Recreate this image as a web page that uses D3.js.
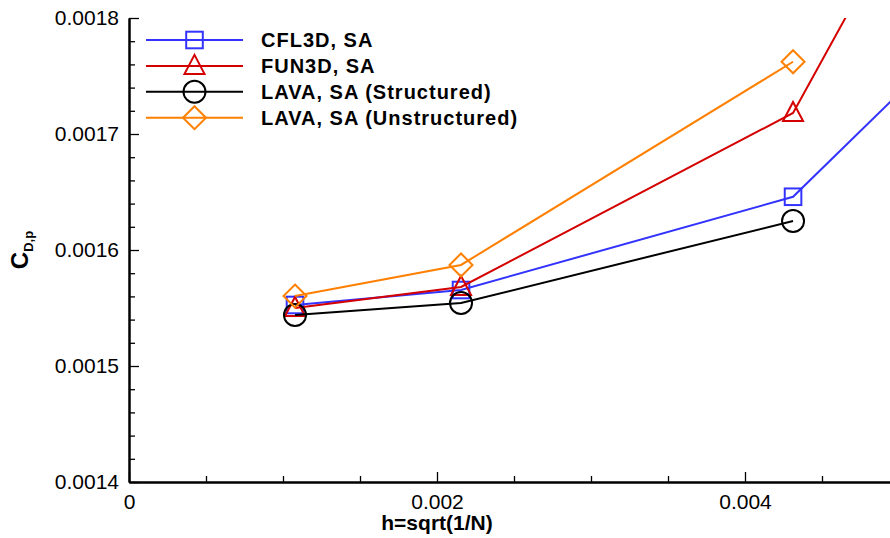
<!DOCTYPE html>
<html>
<head>
<meta charset="utf-8">
<script src="https://cdn.jsdelivr.net/npm/d3@7"></script>
<style>
  html, body { margin: 0; padding: 0; background: #fff; }
  svg { display: block; }
  text { font-family: "Liberation Sans", Arial, Helvetica, sans-serif; }
</style>
</head>
<body>
<svg id="chart" width="890" height="538"></svg>
<script>
// Grid spacing h = sqrt(1/N) for each mesh level
const hValues = [0.001078, 0.002156, 0.004312, 0.008624];

// Pressure drag coefficient per solver
const cfl3d = [0.0015526, 0.0015655, 0.0016459, 0.002205];
const fun3d = [0.0015500, 0.0015681, 0.0017181, 0.002758];
const lavaStructured = [0.0015440, 0.0015543, 0.0016250];
const lavaUnstructured = [0.0015603, 0.0015871, 0.0017623];

const seriesNames = ["CFL3D, SA", "FUN3D, SA", "LAVA, SA (Structured)", "LAVA, SA (Unstructured)"];
const seriesColors = ["#3333ff", "#d40000", "#000000", "#ff8000"];
const seriesSymbols = ["square", "triangle", "circle", "diamond"];

const xTickValues = [0, 0.002, 0.004];
const yTickValues = [0.0014, 0.0015, 0.0016, 0.0017, 0.0018];

const series = [cfl3d, fun3d, lavaStructured, lavaUnstructured].map((vals, i) => ({
  name: seriesNames[i], color: seriesColors[i], symbol: seriesSymbols[i],
  points: vals.map((v, j) => ({ x: hValues[j], y: v }))
}));

const svg = d3.select("#chart");
const plotLeft = 129, plotTop = 18, plotBottom = 482, plotRight = 899;

const x = d3.scaleLinear().domain([0, 0.005]).range([plotLeft, plotRight]);
const y = d3.scaleLinear().domain([0.0014, 0.0018]).range([plotBottom, plotTop]);

svg.append("defs").append("clipPath").attr("id", "plotClip")
  .append("rect").attr("x", plotLeft).attr("y", plotTop)
  .attr("width", plotRight - plotLeft).attr("height", plotBottom - plotTop);

// Axes: ticks point inward, major + minor
const xMinorVals = d3.range(1, 10).map(i => i * 0.0005).filter(v => Math.abs(v / 0.002 - Math.round(v / 0.002)) > 1e-6);
const yMinorVals = d3.range(1, 20).map(i => 0.0014 + i * 0.00002).filter(v => Math.abs(v / 0.0001 - Math.round(v / 0.0001)) > 1e-6);

const xMajor = d3.axisBottom(x).tickValues(xTickValues).tickSizeInner(-10).tickSizeOuter(0)
  .tickPadding(12).tickFormat(d => d === 0 ? "0" : d3.format(".3f")(d));
const xMinor = d3.axisBottom(x).tickValues(xMinorVals).tickSizeInner(-6).tickSizeOuter(0).tickFormat("");
const yMajor = d3.axisLeft(y).tickValues(yTickValues).tickSizeInner(-10).tickSizeOuter(0)
  .tickPadding(10).tickFormat(d3.format(".4f"));
const yMinor = d3.axisLeft(y).tickValues(yMinorVals).tickSizeInner(-6).tickSizeOuter(0).tickFormat("");

function styleAxis(g) {
  g.select(".domain").attr("stroke", "#000").attr("stroke-width", 2);
  g.selectAll(".tick line").attr("stroke", "#000").attr("stroke-width", 1.3);
  g.selectAll(".tick text").attr("fill", "#000").attr("font-size", 21);
}

svg.append("g").attr("transform", `translate(0,${plotBottom})`).call(xMinor).call(styleAxis);
svg.append("g").attr("transform", `translate(0,${plotBottom})`).call(xMajor).call(styleAxis);
svg.append("g").attr("transform", `translate(${plotLeft},0)`).call(yMinor).call(styleAxis);
svg.append("g").attr("transform", `translate(${plotLeft},0)`).call(yMajor).call(styleAxis);

// Axis titles
svg.append("text").attr("x", 437).attr("y", 530).attr("text-anchor", "middle")
  .attr("font-size", 21).attr("font-weight", "bold").text("h=sqrt(1/N)");

const yTitle = svg.append("text").attr("transform", "translate(28,250) rotate(-90)")
  .attr("text-anchor", "middle").attr("font-weight", "bold");
yTitle.append("tspan").attr("font-size", 24).text("C");
yTitle.append("tspan").attr("font-size", 13).attr("dy", 5).text("D,p");

// Marker shapes
function marker(sel, symbol, color) {
  if (symbol === "square") {
    sel.append("rect").attr("x", -8.3).attr("y", -8.3).attr("width", 16.6).attr("height", 16.6);
  } else if (symbol === "circle") {
    sel.append("circle").attr("r", 11);
  } else if (symbol === "triangle") {
    sel.append("path").attr("d", "M0,-11 L10,8 L-10,8 Z");
  } else if (symbol === "diamond") {
    sel.append("path").attr("d", "M0,-11.5 L11.5,0 L0,11.5 L-11.5,0 Z");
  }
  sel.selectAll("*").attr("fill", "none").attr("stroke", color).attr("stroke-width", 2);
}

const plot = svg.append("g").attr("clip-path", "url(#plotClip)");
const line = d3.line().x(d => x(d.x)).y(d => y(d.y));

series.forEach(s => {
  plot.append("path").datum(s.points).attr("d", line)
    .attr("fill", "none").attr("stroke", s.color).attr("stroke-width", 2);
  s.points.forEach(p => {
    const g = plot.append("g").attr("transform", `translate(${x(p.x)},${y(p.y)})`);
    marker(g, s.symbol, s.color);
  });
});

// Legend
const legend = svg.append("g");
series.forEach((s, i) => {
  const yy = 40 + i * 25.9;
  legend.append("line").attr("x1", 146).attr("x2", 243).attr("y1", yy).attr("y2", yy)
    .attr("stroke", s.color).attr("stroke-width", 2);
  const g = legend.append("g").attr("transform", `translate(194.5,${yy})`);
  marker(g, s.symbol, s.color);
  legend.append("text").attr("x", 261).attr("y", yy + 7).attr("font-size", 20)
    .attr("letter-spacing", 1).attr("font-weight", "bold").attr("fill", "#000").text(s.name);
});
</script>
</body>
</html>
